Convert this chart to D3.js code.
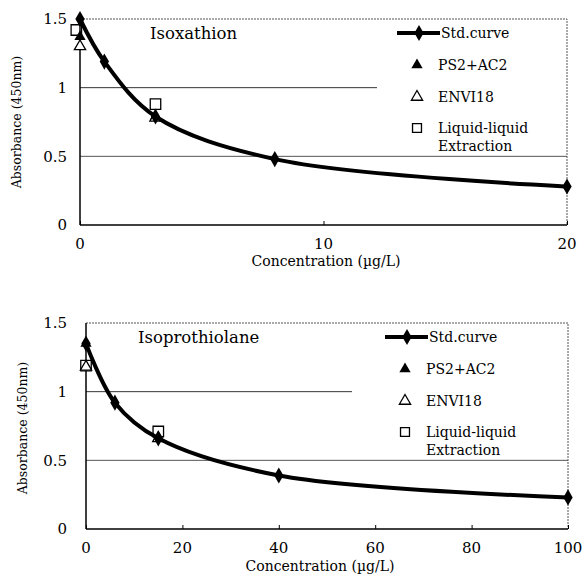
<!DOCTYPE html>
<html>
<head>
<meta charset="utf-8">
<script src="https://cdn.jsdelivr.net/npm/d3@7"></script>
<style>
  body { margin: 0; background: #fff; }
  text { font-family: "DejaVu Serif", "Liberation Serif", serif; fill: #000; }
</style>
</head>
<body>
<div id="chart"></div>
<script>
// panel titles and axes
var panelTitles = ['Isoxathion', 'Isoprothiolane'];
var xMaxes = [20, 100];
var xTickVals = [[0, 10, 20], [0, 20, 40, 60, 80, 100]];
var yTickVals = [0, 0.5, 1, 1.5];
var seriesNames = ['Std.curve', 'PS2+AC2', 'ENVI18', 'Liquid-liquid'];

// Isoxathion
var stdX1 = [0, 1, 3.1, 8, 20];
var stdY1 = [1.5, 1.19, 0.79, 0.48, 0.28];
var psX1 = [0, 3.1], psY1 = [1.37, 0.79];
var envX1 = [0, 3.1], envY1 = [1.30, 0.78];
var llX1 = [-0.15, 3.1], llY1 = [1.42, 0.88];

// Isoprothiolane
var stdX2 = [0, 6, 15, 40, 100];
var stdY2 = [1.35, 0.92, 0.66, 0.39, 0.23];
var psX2 = [0, 15], psY2 = [1.35, 0.66];
var envX2 = [0, 15], envY2 = [1.18, 0.66];
var llX2 = [0, 15], llY2 = [1.19, 0.71];

function zip(xs, ys) { return xs.map(function(x, i) { return { x: x, y: ys[i] }; }); }

var panels = [
  { title: panelTitles[0], xMax: xMaxes[0], xTicks: xTickVals[0],
    std: zip(stdX1, stdY1), ps: zip(psX1, psY1), env: zip(envX1, envY1), ll: zip(llX1, llY1),
    left: 80, right: 567, top: 19, bottom: 225, gridEnd: 377,
    titleX: 150, titleY: 33, yLabX: 17, yLabY: 122, tickY: 244, xLabY: 261, xLabX: 326,
    legX: 397, legY: 33 },
  { title: panelTitles[1], xMax: xMaxes[1], xTicks: xTickVals[1],
    std: zip(stdX2, stdY2), ps: zip(psX2, psY2), env: zip(envX2, envY2), ll: zip(llX2, llY2),
    left: 86, right: 568, top: 323, bottom: 529, gridEnd: 352,
    titleX: 138, titleY: 337, yLabX: 23, yLabY: 428, tickY: 548, xLabY: 566, xLabX: 320,
    legX: 385, legY: 337 }
];

var svg = d3.select('#chart').append('svg')
  .attr('width', 585)
  .attr('height', 574);

var triUp = d3.symbol().type(d3.symbolTriangle).size(55);
var diamond = d3.symbol().type(d3.symbolDiamond).size(75);
var square = d3.symbol().type(d3.symbolSquare).size(110);

panels.forEach(function(p) {
  var x = d3.scaleLinear().domain([0, p.xMax]).range([p.left, p.right]);
  var y = d3.scaleLinear().domain([0, 1.5]).range([p.bottom, p.top]);
  var g = svg.append('g');

  // plot area border (top / right)
  g.append('path')
    .attr('d', 'M' + x(0) + ',' + y(1.5) + 'H' + x(p.xMax) + 'V' + y(0))
    .attr('fill', 'none')
    .attr('stroke', '#555')
    .attr('stroke-width', 1)
    .attr('stroke-dasharray', '2,1');

  // gridlines
  g.append('line')
    .attr('x1', x(0)).attr('x2', p.gridEnd)
    .attr('y1', y(1)).attr('y2', y(1))
    .attr('stroke', '#333').attr('stroke-width', 1);
  g.append('line')
    .attr('x1', x(0)).attr('x2', x(p.xMax))
    .attr('y1', y(0.5)).attr('y2', y(0.5))
    .attr('stroke', '#555').attr('stroke-width', 1);

  // axes
  g.append('g')
    .attr('transform', 'translate(0,' + y(0) + ')')
    .call(d3.axisTop(x).tickValues(p.xTicks).tickSize(4).tickFormat(''))
    .call(function(a) { a.select('.domain').remove(); a.selectAll('line').attr('stroke', '#000'); });
  g.append('line')
    .attr('x1', x(0)).attr('x2', x(p.xMax))
    .attr('y1', y(0)).attr('y2', y(0))
    .attr('stroke', '#000').attr('stroke-width', 1.5);
  g.append('line')
    .attr('x1', x(0)).attr('x2', x(0))
    .attr('y1', y(0)).attr('y2', y(1.5))
    .attr('stroke', '#000').attr('stroke-width', 1.5);

  g.selectAll('.ytick')
    .data(yTickVals)
    .enter()
    .append('text')
    .attr('x', 67)
    .attr('y', function(d) { return y(d); })
    .attr('dy', '0.35em')
    .attr('text-anchor', 'end')
    .style('font-size', '15px')
    .text(function(d) { return d; });

  g.selectAll('.xtick')
    .data(p.xTicks)
    .enter()
    .append('text')
    .attr('x', function(d) { return x(d); })
    .attr('y', p.tickY)
    .attr('dy', '0.35em')
    .attr('text-anchor', 'middle')
    .style('font-size', '15px')
    .text(function(d) { return d; });

  g.append('text')
    .attr('x', p.xLabX)
    .attr('y', p.xLabY)
    .attr('dy', '0.35em')
    .attr('text-anchor', 'middle')
    .style('font-size', '14px')
    .text('Concentration (\u00b5g/L)');

  g.append('text')
    .attr('transform', 'translate(' + p.yLabX + ',' + p.yLabY + ') rotate(-90)')
    .attr('dy', '0.35em')
    .attr('text-anchor', 'middle')
    .style('font-size', '12.5px')
    .text('Absorbance (450nm)');

  g.append('text')
    .attr('x', p.titleX)
    .attr('y', p.titleY)
    .attr('dy', '0.35em')
    .style('font-size', '16.5px')
    .text(p.title);

  // sample series
  g.append('g').selectAll('path')
    .data(p.ll).enter().append('path')
    .attr('d', square)
    .attr('transform', function(d) { return 'translate(' + x(d.x) + ',' + y(d.y) + ')'; })
    .attr('fill', 'none').attr('stroke', '#000').attr('stroke-width', 1.3);

  g.append('g').selectAll('path')
    .data(p.ps).enter().append('path')
    .attr('d', triUp)
    .attr('transform', function(d) { return 'translate(' + x(d.x) + ',' + y(d.y) + ')'; })
    .attr('fill', '#000');

  g.append('g').selectAll('path')
    .data(p.env).enter().append('path')
    .attr('d', triUp)
    .attr('transform', function(d) { return 'translate(' + x(d.x) + ',' + y(d.y) + ')'; })
    .attr('fill', '#fff').attr('stroke', '#000').attr('stroke-width', 1.3);

  // standard curve
  var line = d3.line()
    .x(function(d) { return x(d.x); })
    .y(function(d) { return y(d.y); })
    .curve(d3.curveCatmullRom.alpha(0.5));

  g.append('path')
    .attr('d', line(p.std))
    .attr('fill', 'none')
    .attr('stroke', '#000')
    .attr('stroke-width', 4);

  g.append('g').selectAll('path')
    .data(p.std).enter().append('path')
    .attr('d', diamond)
    .attr('transform', function(d) { return 'translate(' + x(d.x) + ',' + y(d.y) + ')'; })
    .attr('fill', '#000');

  // legend
  var lg = g.append('g').attr('transform', 'translate(' + p.legX + ',' + p.legY + ')');
  lg.append('line')
    .attr('x1', 0).attr('x2', 43).attr('y1', 0).attr('y2', 0)
    .attr('stroke', '#000').attr('stroke-width', 4);
  lg.append('path').attr('d', diamond).attr('transform', 'translate(22,0)').attr('fill', '#000');
  lg.append('path').attr('d', triUp).attr('transform', 'translate(20,32)').attr('fill', '#000');
  lg.append('path').attr('d', triUp).attr('transform', 'translate(20,64)')
    .attr('fill', '#fff').attr('stroke', '#000').attr('stroke-width', 1.3);
  lg.append('path').attr('d', d3.symbol().type(d3.symbolSquare).size(80)).attr('transform', 'translate(20,95)')
    .attr('fill', 'none').attr('stroke', '#000').attr('stroke-width', 1.3);

  var legTexts = [
    { t: seriesNames[0], x: 44, y: 0 },
    { t: seriesNames[1], x: 41, y: 32 },
    { t: seriesNames[2], x: 41, y: 64 },
    { t: seriesNames[3], x: 41, y: 95 },
    { t: 'Extraction', x: 41, y: 113 }
  ];
  lg.selectAll('text')
    .data(legTexts).enter().append('text')
    .attr('x', function(d) { return d.x; })
    .attr('y', function(d) { return d.y; })
    .attr('dy', '0.35em')
    .style('font-size', '14px')
    .text(function(d) { return d.t; });
});
</script>
</body>
</html>
